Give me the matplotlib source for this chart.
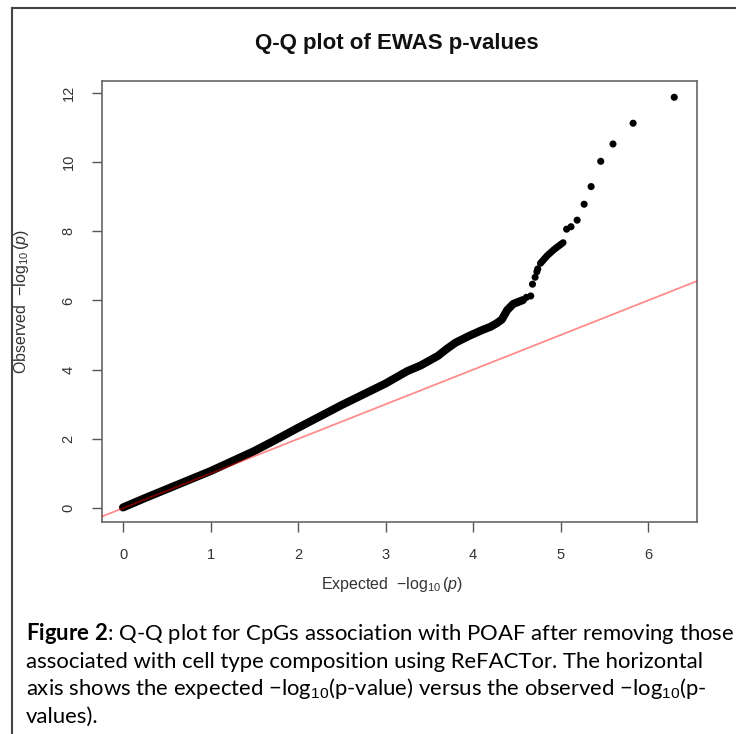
import matplotlib
matplotlib.use("Agg")
import matplotlib.pyplot as plt
from matplotlib.lines import Line2D

plt.rcParams['font.family'] = ['Liberation Sans', 'DejaVu Sans']
plt.rcParams['mathtext.fontset'] = 'custom'
plt.rcParams['mathtext.rm'] = 'Liberation Sans'
plt.rcParams['mathtext.it'] = 'Liberation Sans:italic'
plt.rcParams['mathtext.bf'] = 'Lato:bold'

# dense part of the QQ curve (expected, observed)
band_x = [0.0, 0.25, 0.5, 0.75, 1.0, 1.25, 1.5, 1.75, 2.0, 2.25, 2.5, 2.75, 3.0,
          3.25, 3.4, 3.6, 3.7, 3.8, 3.95, 4.1, 4.2, 4.27, 4.33, 4.39, 4.46, 4.52, 4.57]
band_y = [0.02, 0.29, 0.55, 0.81, 1.07, 1.36, 1.65, 1.98, 2.32, 2.65, 2.98, 3.29, 3.60,
          3.96, 4.12, 4.40, 4.60, 4.78, 4.97, 5.14, 5.24, 5.34, 5.45, 5.72, 5.90, 5.96, 6.01]
band2_x = [4.77, 4.85, 4.93, 5.03]
band2_y = [7.07, 7.30, 7.48, 7.67]
# isolated points in the tail
tail_x = [4.61, 4.66, 4.68, 4.71, 4.73, 4.74, 5.07, 5.12, 5.19, 5.27, 5.35, 5.46, 5.60, 5.83, 6.30]
tail_y = [6.09, 6.13, 6.47, 6.67, 6.83, 6.91, 8.06, 8.13, 8.32, 8.78, 9.29, 10.02, 10.52, 11.12, 11.87]

x_ticks = [0, 1, 2, 3, 4, 5, 6]
y_ticks = [0, 2, 4, 6, 8, 10, 12]

caption = [
    r"$\mathbf{Figure\ 2}$: Q-Q plot for CpGs association with POAF after removing those",
    "associated with cell type composition using ReFACTor. The horizontal",
    "axis shows the expected \u2212log$_{10}$(p-value) versus the observed \u2212log$_{10}$(p-",
    "values).",
]

W, H = 736, 734
fig = plt.figure(figsize=(W / 100, H / 100), dpi=100)
ax = fig.add_axes([102 / W, 1 - 522 / H, (697 - 102) / W, (522 - 81) / H])

ax.plot(band_x, band_y, color='black', lw=5.8, solid_capstyle='round',
        solid_joinstyle='round', zorder=2)
ax.plot(band2_x, band2_y, color='black', lw=5.0, solid_capstyle='round',
        solid_joinstyle='round', zorder=2)
ax.scatter(tail_x, tail_y, s=26, color='black', edgecolors='none', zorder=2)
ax.axline((0, 0), slope=1, color='red', alpha=0.45, lw=1.3, zorder=3)

ax.set_xlim(-0.24, 6.56)
ax.set_ylim(-0.40, 12.34)
ax.set_xticks(x_ticks)
ax.set_yticks(y_ticks)
ax.tick_params(axis='both', direction='out', length=7, width=1, color='#555555',
               labelsize=10.5, labelcolor='#333333', pad=12)
plt.setp(ax.get_yticklabels(), rotation=90, va='center')
for s in ax.spines.values():
    s.set_color('#666666')
    s.set_linewidth(1.2)

fig.text(392 / W, 1 - 585 / H, r"Expected  $-\log_{10}(\mathit{p})$", ha='center',
         va='center', fontsize=11.5, color='#333333')
fig.text(22 / W, 1 - 302 / H, r"Observed  $-\log_{10}(\mathit{p})$", ha='center',
         va='center', fontsize=11.5, color='#333333', rotation=90)
fig.text(397 / W, 1 - 44 / H, "Q-Q plot of EWAS p-values", ha='center', va='center',
         fontsize=16, fontweight='bold', color='#111111')

# border of the figure box
fig.add_artist(Line2D([12 / W, 12 / W], [0, 1 - 8 / H], transform=fig.transFigure,
                      color='#444444', lw=1.5))
fig.add_artist(Line2D([12 / W, 1], [1 - 8 / H, 1 - 8 / H], transform=fig.transFigure,
                      color='#444444', lw=1.5))

for i, line in enumerate(caption):
    fig.text(26 / W, 1 - (640 + i * 27.5) / H, line, ha='left', va='baseline',
             fontsize=15.9, family='Lato', color='black')

fig.savefig('out.png', dpi=100)
